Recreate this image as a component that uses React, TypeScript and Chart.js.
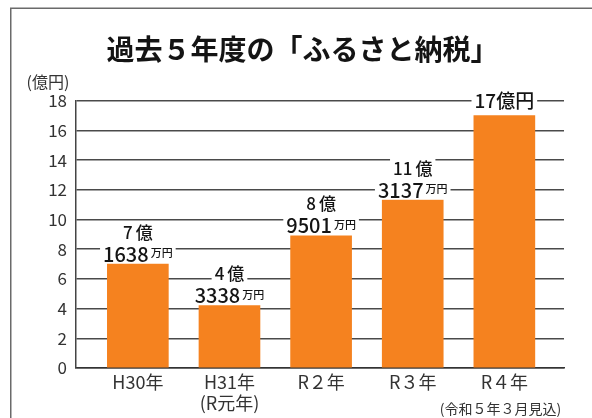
import React, { useEffect, useRef } from 'react';
import { Chart, registerables } from 'chart.js';

Chart.register(...registerables);

const FONT = '"Noto Sans CJK JP", "Noto Sans", sans-serif';

const titleText = '過去５年度の「ふるさと納税」';
const yUnitText = '(億円)';
const noteText = '(令和５年３月見込)';

const categories: string[][] = [['H30年'], ['H31年', '(R元年)'], ['R２年'], ['R３年'], ['R４年']];
const values: number[] = [7.0, 4.2, 8.9, 11.3, 17.0];
const okuLabels: string[] = ['7', '4', '8', '11', '17'];
const okuSuffix: string[] = ['億', '億', '億', '億', '億円'];
const manLabels: string[] = ['1638', '3338', '9501', '3137', ''];
const manUnit = '万円';
const yTicks = { min: 0, max: 18, step: 2 };

const BAR_COLOR = '#F5821F';
const GRID_COLOR = '#4a4a4a';

const framePlugin = {
  id: 'frame',
  beforeDraw(chart: any) {
    const ctx = chart.ctx as CanvasRenderingContext2D;
    ctx.save();
    ctx.fillStyle = '#fff';
    ctx.fillRect(0, 0, chart.width, chart.height);
    ctx.strokeStyle = '#6a6a6a';
    ctx.lineWidth = 1.5;
    ctx.beginPath();
    ctx.moveTo(10.75, chart.height + 2);
    ctx.lineTo(10.75, 8.25);
    ctx.lineTo(chart.width + 2, 8.25);
    ctx.stroke();
    ctx.restore();
  },
  afterDraw(chart: any) {
    const ctx = chart.ctx as CanvasRenderingContext2D;
    ctx.save();
    ctx.fillStyle = '#141414';
    ctx.textAlign = 'center';
    ctx.textBaseline = 'middle';
    ctx.font = `bold 28px ${FONT}`;
    ctx.fillText(titleText, 302.5, 49);
    ctx.fillStyle = '#333';
    ctx.font = `16px ${FONT}`;
    ctx.fillText(yUnitText, 48, 82);
    ctx.font = `14px ${FONT}`;
    ctx.fillText(noteText, 500.5, 409);
    ctx.restore();
  },
};

const labelPlugin = {
  id: 'barLabels',
  afterDatasetsDraw(chart: any) {
    const ctx = chart.ctx as CanvasRenderingContext2D;
    const meta = chart.getDatasetMeta(0);
    meta.data.forEach((bar: any, i: number) => {
      const cx = bar.x;
      const top = bar.y;
      ctx.save();
      ctx.textBaseline = 'middle';
      ctx.textAlign = 'left';
      const man = manLabels[i];
      if (man) {
        ctx.font = `500 20px ${FONT}`;
        const dw = ctx.measureText(man).width;
        ctx.font = `500 11px ${FONT}`;
        const uw = ctx.measureText(manUnit).width;
        const w = dw + 2 + uw;
        const y2 = top - 11;
        ctx.fillStyle = '#fff';
        ctx.fillRect(cx - w / 2 - 3, y2 - 10, w + 6, 20);
        ctx.fillStyle = '#141414';
        ctx.font = `500 20px ${FONT}`;
        ctx.fillText(man, cx - w / 2, y2 + 1);
        ctx.font = `500 11px ${FONT}`;
        ctx.fillText(manUnit, cx - w / 2 + dw + 2, y2);
        const y1 = top - 32;
        ctx.font = `500 17px ${FONT}`;
        const nw = ctx.measureText(okuLabels[i]).width;
        const sw = ctx.measureText(okuSuffix[i]).width;
        const w1 = nw + 3 + sw;
        ctx.fillStyle = '#fff';
        ctx.fillRect(cx - w1 / 2 - 3, y1 - 10, w1 + 6, 20);
        ctx.fillStyle = '#141414';
        ctx.fillText(okuLabels[i], cx - w1 / 2, y1);
        ctx.fillText(okuSuffix[i], cx - w1 / 2 + nw + 3, y1);
      } else {
        const y1 = top - 15;
        ctx.font = `500 19px ${FONT}`;
        const txt = okuLabels[i] + okuSuffix[i];
        const w1 = ctx.measureText(txt).width;
        ctx.fillStyle = '#fff';
        ctx.fillRect(cx - w1 / 2 - 3, y1 - 10, w1 + 6, 20);
        ctx.fillStyle = '#141414';
        ctx.fillText(txt, cx - w1 / 2, y1);
      }
      ctx.restore();
    });
  },
};

export default function App() {
  const canvasRef = useRef<HTMLCanvasElement | null>(null);

  useEffect(() => {
    if (!canvasRef.current) return;
    const chart = new Chart(canvasRef.current, {
      type: 'bar',
      data: {
        datasets: [
          {
            data: values.map((v, i) => ({ x: i, y: v })),
            backgroundColor: BAR_COLOR,
            borderWidth: 0,
            barThickness: 61,
          } as any,
        ],
      },
      options: {
        responsive: false,
        animation: false,
        devicePixelRatio: 1,
        layout: { padding: { left: 0, right: 28, top: 100.7, bottom: 0 } },
        plugins: {
          legend: { display: false },
          tooltip: { enabled: false },
        },
        scales: {
          x: {
            type: 'linear',
            offset: false,
            min: -0.675,
            max: 4.651,
            afterBuildTicks: (axis: any) => {
              axis.ticks = categories.map((_, i) => ({ value: i }));
            },
            afterFit: (s: any) => {
              s.height = 50;
            },
            grid: { display: false, drawTicks: false, offset: false },
            border: { display: true, color: '#333', width: 1.5 },
            ticks: {
              autoSkip: false,
              maxRotation: 0,
              padding: 3,
              color: '#333',
              font: { family: FONT, size: 18 },
              callback: (v: any) => categories[Math.round(Number(v))] as any,
            },
          },
          y: {
            min: yTicks.min,
            max: yTicks.max,
            afterFit: (s: any) => {
              s.width = 76;
            },
            grid: { color: GRID_COLOR, lineWidth: 1.5, drawTicks: false },
            border: { display: true, color: '#444', width: 1.5 },
            ticks: {
              stepSize: yTicks.step,
              padding: 9,
              color: '#333',
              font: { family: FONT, size: 17 },
            },
          },
        },
      } as any,
      plugins: [framePlugin, labelPlugin],
    });
    return () => chart.destroy();
  }, []);

  return (
    <div style={{ position: 'fixed', left: 0, top: 0, width: 592, height: 418 }}>
      <canvas ref={canvasRef} width={592} height={418} style={{ width: 592, height: 418, display: 'block' }} />
    </div>
  );
}
